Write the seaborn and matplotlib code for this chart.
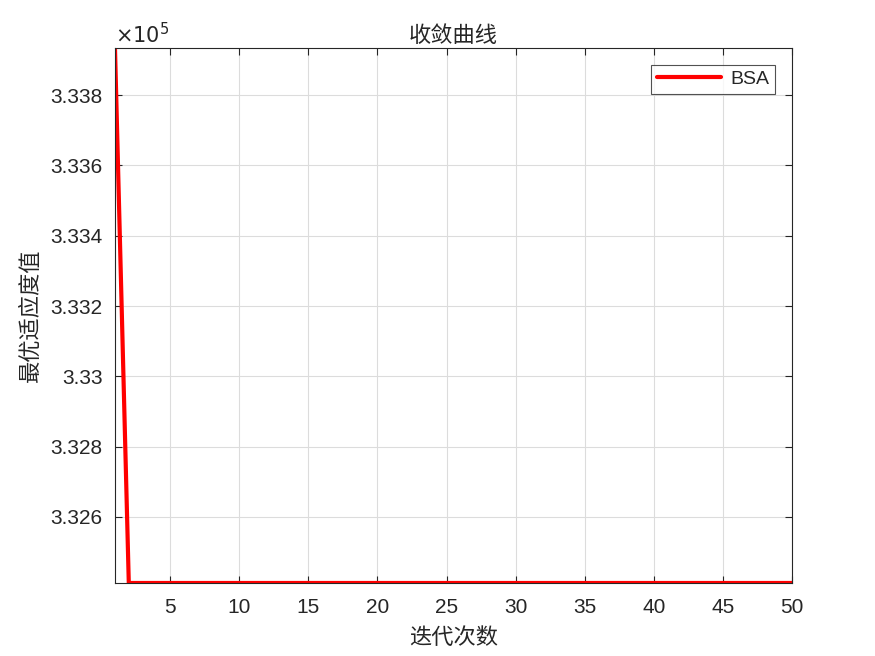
"""Convergence curve, MATLAB-like look."""

import matplotlib
matplotlib.use("Agg")
import matplotlib.pyplot as plt
import numpy as np
import pandas as pd
import seaborn as sns
from matplotlib.ticker import FuncFormatter

iterations = list(range(1, 51))
best_fitness = [333934.0] + [332412.0] * 49
series_name = "BSA"

sns.set_style("ticks")
plt.rcParams["font.family"] = ["Liberation Sans", "Noto Sans CJK SC", "DejaVu Sans"]
cjk = ["Noto Sans CJK SC", "DejaVu Sans"]

df = pd.DataFrame({"iter": iterations, "fit": best_fitness, "algo": series_name})

fig = plt.figure(figsize=(8.75, 6.56), dpi=100)
ax = fig.add_axes([0.1314, 0.1113, 0.7737, 0.8155])

sns.lineplot(data=df, x="iter", y="fit", hue="algo", palette=["#ff0000"],
             linewidth=3, ax=ax, legend=True)

ax.set_xlim(1, 50)
ax.set_ylim(min(best_fitness), max(best_fitness))
ax.set_xticks(np.arange(5, 51, 5))
ax.set_yticks(np.arange(332600, 333900, 200))
ax.yaxis.set_major_formatter(FuncFormatter(lambda v, _: f"{v / 1e5:g}"))
ax.grid(True, color="#dcdcdc", linewidth=0.8)
ax.tick_params(direction="in", top=True, right=True, labelsize=15,
               colors="#262626", length=5, width=0.8, pad=9)
ax.tick_params(axis="x", pad=11)
for s in ax.spines.values():
    s.set_color("#262626")
    s.set_linewidth(0.8)

ax.text(0.0, 1.002, r"$\times10^{5}$", transform=ax.transAxes, fontsize=15,
        color="#262626", ha="left", va="bottom", family="DejaVu Sans")

ax.set_title("收敛曲线", family=cjk, fontsize=16, color="#262626", pad=4)
ax.set_xlabel("迭代次数", family=cjk, fontsize=16, color="#262626", labelpad=6)
ax.set_ylabel("最优适应度值", family=cjk, fontsize=16, color="#262626", labelpad=6)

leg = ax.legend(loc="upper right", fontsize=14, frameon=True, fancybox=False,
                edgecolor="#262626", handlelength=3.3, borderaxespad=0.85,
                handletextpad=0.5, borderpad=0.3)
leg.get_frame().set_linewidth(0.8)

fig.savefig("out.png", dpi=100)
plt.close(fig)
